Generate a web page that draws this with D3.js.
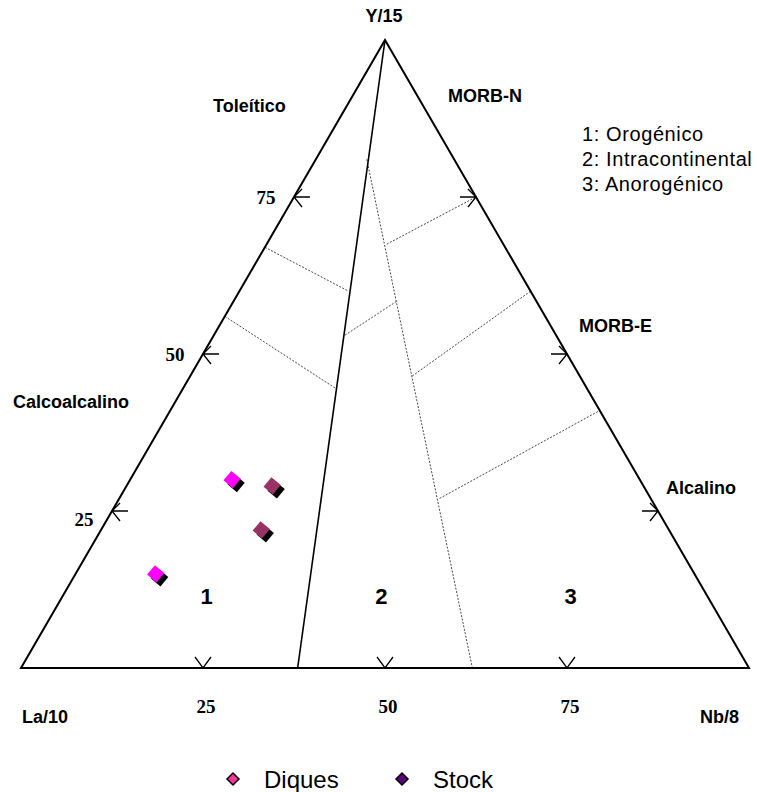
<!DOCTYPE html>
<html>
<head>
<meta charset="utf-8">
<script src="https://cdn.jsdelivr.net/npm/d3@7"></script>
<style>
  body { margin: 0; background: #fff; }
  svg { display: block; }
</style>
</head>
<body>
<script>
// ternary values as percent [La/10, Nb/8, Y/15]
var categories = ["Diques", "Stock"];
var diques = [[56, 14, 30], [74, 11, 15]];
var stock = [[51, 20, 29], [56, 22, 22]];

// field boundaries (start, end) in percent [La, Nb, Y]
var solidLines = [[[0, 0, 100], [62, 38, 0]]];
var dottedLines = [
    [[12, 7, 81], [38, 62, 0]],
    [[33, 0, 67], [25, 15, 60]],
    [[44, 0, 56], [34.5, 21, 44.5]],
    [[29, 18, 53], [19, 22.5, 58.5]],
    [[16, 16.5, 67.5], [0, 25, 75]],
    [[23, 30.5, 46.5], [0, 40, 60]],
    [[29, 44, 27], [0, 59, 41]]
];

var tickValues = [25, 50, 75];
var tickLabels = ["25", "50", "75"];
var fieldNames = ["1", "2", "3"];
var fieldCenters = [[65, 16, 19], [41, 40, 19], [15, 66, 19]];
var tectonicNames = ["1: Orogénico", "2: Intracontinental", "3: Anorogénico"];

var w = 757, h = 792;
var svg = d3.select("body").append("svg").attr("width", w).attr("height", h);

var xScale = d3.scaleLinear().domain([0, 1]).range([21, 749]);
var yScale = d3.scaleLinear().domain([0, 1]).range([668, 40]);

// convert [La, Nb, Y] percent to pixel position
function tern(p) {
    var s = p[0] + p[1] + p[2];
    var nb = p[1] / s, y = p[2] / s;
    return [xScale(nb + y / 2), yScale(y)];
}

var sans = "Arial, 'Liberation Sans', Helvetica, sans-serif";
var serif = "'Times New Roman', 'Liberation Serif', serif";

// dotted boundaries
svg.selectAll("line.dot").data(dottedLines).enter().append("line")
    .attr("class", "dot")
    .attr("x1", function(d) { return tern(d[0])[0]; })
    .attr("y1", function(d) { return tern(d[0])[1]; })
    .attr("x2", function(d) { return tern(d[1])[0]; })
    .attr("y2", function(d) { return tern(d[1])[1]; })
    .attr("stroke", "#333").attr("stroke-width", 0.9)
    .attr("stroke-dasharray", "2,1.5");

svg.selectAll("line.solid").data(solidLines).enter().append("line")
    .attr("class", "solid")
    .attr("x1", function(d) { return tern(d[0])[0]; })
    .attr("y1", function(d) { return tern(d[0])[1]; })
    .attr("x2", function(d) { return tern(d[1])[0]; })
    .attr("y2", function(d) { return tern(d[1])[1]; })
    .attr("stroke", "#000").attr("stroke-width", 1.6);

// outer triangle
var corners = [[100, 0, 0], [0, 100, 0], [0, 0, 100]].map(tern);
svg.append("path")
    .attr("d", d3.line()(corners) + "Z")
    .attr("fill", "none").attr("stroke", "#000").attr("stroke-width", 2)
    .attr("stroke-linejoin", "miter");

// ticks: bottom (V), left (<-), right (->)
var tk = svg.append("g").attr("stroke", "#000").attr("stroke-width", 1.3).attr("fill", "none");
tickValues.forEach(function(v, i) {
    var b = tern([100 - v, v, 0]);
    tk.append("path").attr("d", "M" + (b[0] - 8) + "," + (b[1] - 11) + "L" + b[0] + "," + b[1] + "L" + (b[0] + 8) + "," + (b[1] - 11));
    var l = tern([100 - v, 0, v]);
    tk.append("path").attr("d", "M" + (l[0] + 8) + "," + (l[1] - 8) + "L" + l[0] + "," + l[1] + "L" + (l[0] + 8) + "," + (l[1] + 10) + "M" + l[0] + "," + l[1] + "L" + (l[0] + 16) + "," + l[1]);
    var r = tern([0, 100 - v, v]);
    tk.append("path").attr("d", "M" + (r[0] - 8) + "," + (r[1] - 8) + "L" + r[0] + "," + r[1] + "L" + (r[0] - 8) + "," + (r[1] + 10) + "M" + r[0] + "," + r[1] + "L" + (r[0] - 16) + "," + r[1]);

    svg.append("text").attr("x", b[0] + 3).attr("y", 713)
        .attr("text-anchor", "middle").attr("font-family", serif).attr("font-weight", "bold")
        .attr("font-size", 19).text(tickLabels[i]);
    svg.append("text").attr("x", l[0] - 28).attr("y", l[1] + 7 + (v === 25 ? 8 : 0))
        .attr("text-anchor", "middle").attr("font-family", serif).attr("font-weight", "bold")
        .attr("font-size", 19).text(tickLabels[i]);
});

// labels
var labels = [
    ["Y/15", 384, 22, "middle"],
    ["Toleítico", 213, 112, "start"],
    ["MORB-N", 448, 102, "start"],
    ["MORB-E", 579, 332, "start"],
    ["Calcoalcalino", 13, 408, "start"],
    ["Alcalino", 666, 494, "start"],
    ["La/10", 22, 723, "start"],
    ["Nb/8", 700, 723, "start"]
];
svg.selectAll("text.lab").data(labels).enter().append("text")
    .attr("class", "lab")
    .attr("x", function(d) { return d[1]; })
    .attr("y", function(d) { return d[2]; })
    .attr("text-anchor", function(d) { return d[3]; })
    .attr("font-family", sans).attr("font-weight", "bold").attr("font-size", 18)
    .text(function(d) { return d[0]; });

svg.selectAll("text.field").data(fieldNames).enter().append("text")
    .attr("class", "field")
    .attr("x", function(d, i) { return tern(fieldCenters[i])[0]; })
    .attr("y", 604)
    .attr("text-anchor", "middle")
    .attr("font-family", sans).attr("font-weight", "bold").attr("font-size", 22)
    .text(function(d) { return d; });

svg.selectAll("text.tect").data(tectonicNames).enter().append("text")
    .attr("class", "tect")
    .attr("x", 582)
    .attr("y", function(d, i) { return 141 + i * 25; })
    .attr("font-family", sans).attr("font-size", 20).attr("letter-spacing", 0.6)
    .text(function(d) { return d; });

// data points: tilted squares with black shadow
var plotColors = ["#ff00ff", "#993366"];
var sq = d3.symbol().type(d3.symbolSquare).size(150)();
[diques, stock].forEach(function(set, k) {
    var g = svg.append("g");
    g.selectAll("path.shadow").data(set).enter().append("path")
        .attr("d", sq)
        .attr("transform", function(d) { var p = tern(d); return "translate(" + (p[0] + 4) + "," + (p[1] + 4) + ") rotate(40)"; })
        .attr("fill", "#000");
    g.selectAll("path.mk").data(set).enter().append("path")
        .attr("d", sq)
        .attr("transform", function(d) { var p = tern(d); return "translate(" + p[0] + "," + p[1] + ") rotate(40)"; })
        .attr("fill", plotColors[k]);
});

// legend
var legendColors = ["#ff3399", "#5c0080"];
var legendX = [233, 402];
var lg = svg.selectAll("g.leg").data(categories).enter().append("g")
    .attr("class", "leg")
    .attr("transform", function(d, i) { return "translate(" + legendX[i] + ",779)"; });
lg.append("path")
    .attr("d", d3.symbol().type(d3.symbolSquare).size(72)())
    .attr("transform", "rotate(45)")
    .attr("fill", function(d, i) { return legendColors[i]; })
    .attr("stroke", "#000").attr("stroke-width", 1.5);
lg.append("text")
    .attr("x", 31).attr("y", 9)
    .attr("font-family", sans).attr("font-size", 24)
    .text(function(d) { return d; });
</script>
</body>
</html>
